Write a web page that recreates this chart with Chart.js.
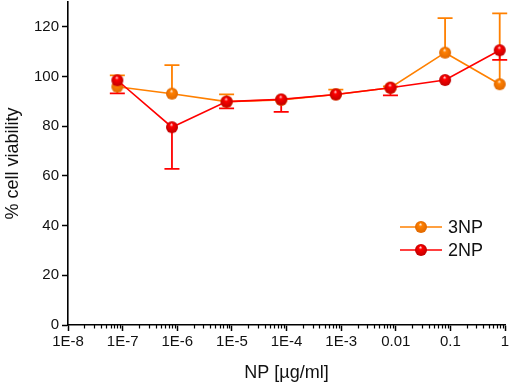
<!DOCTYPE html>
<html>
<head>
<meta charset="utf-8">
<script src="https://cdn.jsdelivr.net/npm/chart.js@4"></script>
<style>
  html, body { margin: 0; padding: 0; background: #fff; }
</style>
</head>
<body>
<canvas id="chart" width="510" height="385"></canvas>
<script>
// concentrations (µg/ml) and % cell viability
const concentrations = [8e-8, 8e-7, 8e-6, 8e-5, 8e-4, 8e-3, 8e-2, 0.8];
const viability3NP = [95.9, 93.1, 89.9, 90.6, 92.8, 95.5, 109.6, 96.9];
const errorUp3NP = [4.6, 11.5, 2.9, 0, 1.9, 0.5, 13.9, 28.5];
const viability2NP = [98.5, 79.6, 89.9, 90.8, 92.8, 95.5, 98.6, 110.6];
const errorDown2NP = [5.3, 16.8, 2.7, 5.0, 0, 3.1, 0, 3.9];

const xTicks = [1e-8, 1e-7, 1e-6, 1e-5, 1e-4, 1e-3, 1e-2, 1e-1, 1];
const xTickLabels = ["1E-8", "1E-7", "1E-6", "1E-5", "1E-4", "1E-3", "0.01", "0.1", "1"];
const yTicks = [0, 20, 40, 60, 80, 100, 120];

const ORANGE = "#ff8000";
const RED = "#ff0000";
const FONT = "'Liberation Sans', Arial, sans-serif";

// shaded ball marker
function sphere(color, dark, r) {
  const c = document.createElement("canvas");
  const s = 2 * r + 2;
  c.width = s;
  c.height = s;
  const g = c.getContext("2d");
  const cx = s / 2, cy = s / 2;
  const grad = g.createRadialGradient(cx - r * 0.1, cy - r * 0.5, 0, cx, cy, r);
  grad.addColorStop(0, "#ffffff");
  grad.addColorStop(0.3, color);
  grad.addColorStop(1, dark);
  g.fillStyle = grad;
  g.beginPath();
  g.arc(cx, cy, r, 0, Math.PI * 2);
  g.fill();
  return c;
}
const ballOrange = sphere(ORANGE, "#e06800", 6);
const ballRed = sphere(RED, "#c00000", 6);

const series = [
  { label: "3NP", data: viability3NP, err: errorUp3NP, dir: 1, color: ORANGE, ball: ballOrange },
  { label: "2NP", data: viability2NP, err: errorDown2NP, dir: -1, color: RED, ball: ballRed },
];

// error bars (one-sided), drawn under the lines
const errorBars = {
  id: "errorBars",
  beforeDatasetsDraw(chart) {
    const ctx = chart.ctx;
    const x = chart.scales.x, y = chart.scales.y;
    ctx.save();
    series.forEach((s) => {
      ctx.strokeStyle = s.color;
      ctx.lineWidth = 1.8;
      s.data.forEach((v, i) => {
        if (!s.err[i]) return;
        const px = x.getPixelForValue(concentrations[i]);
        const p0 = y.getPixelForValue(v);
        const p1 = y.getPixelForValue(v + s.dir * s.err[i]);
        ctx.beginPath();
        ctx.moveTo(px, p0);
        ctx.lineTo(px, p1);
        ctx.moveTo(px - 7.5, p1);
        ctx.lineTo(px + 7.5, p1);
        ctx.stroke();
      });
    });
    ctx.restore();
  },
};

// minor log ticks on x axis + legend inside plot
const extras = {
  id: "extras",
  afterDraw(chart) {
    const ctx = chart.ctx;
    const x = chart.scales.x;
    const base = chart.chartArea.bottom;
    ctx.save();
    ctx.strokeStyle = "#000";
    ctx.lineWidth = 1.2;
    for (let d = -8; d < 0; d++) {
      for (let m = 2; m <= 9; m++) {
        const px = Math.round(x.getPixelForValue(m * Math.pow(10, d))) + 0.5;
        ctx.beginPath();
        ctx.moveTo(px, base);
        ctx.lineTo(px, base + 3.5);
        ctx.stroke();
      }
    }
    // legend
    const rows = [series[0], series[1]];
    ctx.font = "18px " + FONT;
    ctx.textBaseline = "middle";
    ctx.fillStyle = "#111";
    rows.forEach((s, i) => {
      const ly = 227 + i * 23;
      ctx.strokeStyle = s.color;
      ctx.lineWidth = 1.6;
      ctx.beginPath();
      ctx.moveTo(400, ly);
      ctx.lineTo(442, ly);
      ctx.stroke();
      ctx.drawImage(s.ball, 421 - s.ball.width / 2, ly - s.ball.height / 2);
      ctx.fillText(s.label, 448, ly + 1);
    });
    ctx.restore();
  },
};

new Chart(document.getElementById("chart"), {
  type: "line",
  data: {
    labels: concentrations,
    datasets: [series[1], series[0]].map((s) => ({
      label: s.label,
      data: concentrations.map((c, i) => ({ x: c, y: s.data[i] })),
      borderColor: s.color,
      borderWidth: 1.6,
      pointStyle: s.ball,
      pointRadius: 6,
      tension: 0,
      clip: false,
    })),
  },
  options: {
    responsive: false,
    animation: false,
    events: [],
    layout: { autoPadding: false, padding: { top: 2, right: 5, left: 0, bottom: 0 } },
    plugins: { legend: { display: false }, tooltip: { enabled: false } },
    scales: {
      x: {
        type: "logarithmic",
        min: 1e-8,
        max: 1,
        afterBuildTicks: (scale) => {
          scale.ticks = xTicks.map((v) => ({ value: v, major: true }));
        },
        afterFit: (scale) => {
          scale.height = 60;
          scale.paddingLeft = 0;
          scale.paddingRight = 0;
        },
        ticks: {
          autoSkip: false,
          maxRotation: 0,
          padding: 2,
          color: "#111",
          font: { family: FONT, size: 15 },
          callback: (v, i) => xTickLabels[i],
        },
        grid: { drawOnChartArea: false, tickLength: 6, tickColor: "#000", tickWidth: 1.5 },
        border: { color: "#000", width: 1.6 },
        title: {
          display: true,
          text: "NP [µg/ml]",
          color: "#111",
          font: { family: FONT, size: 18 },
          padding: { top: 0, bottom: 1 },
        },
      },
      y: {
        min: 0,
        max: 130,
        afterBuildTicks: (scale) => {
          scale.ticks = yTicks.map((v) => ({ value: v }));
        },
        afterFit: (scale) => {
          scale.width = 68;
          scale.paddingTop = 0;
          scale.paddingBottom = 0;
        },
        ticks: {
          padding: 3,
          color: "#111",
          font: { family: FONT, size: 15 },
        },
        grid: { drawOnChartArea: false, tickLength: 6, tickColor: "#000", tickWidth: 1.5 },
        border: { color: "#000", width: 1.6 },
        title: {
          display: true,
          text: "% cell viability",
          color: "#111",
          font: { family: FONT, size: 18 },
          padding: { top: 2, bottom: 0 },
        },
      },
    },
  },
  plugins: [errorBars, extras],
});
</script>
</body>
</html>
